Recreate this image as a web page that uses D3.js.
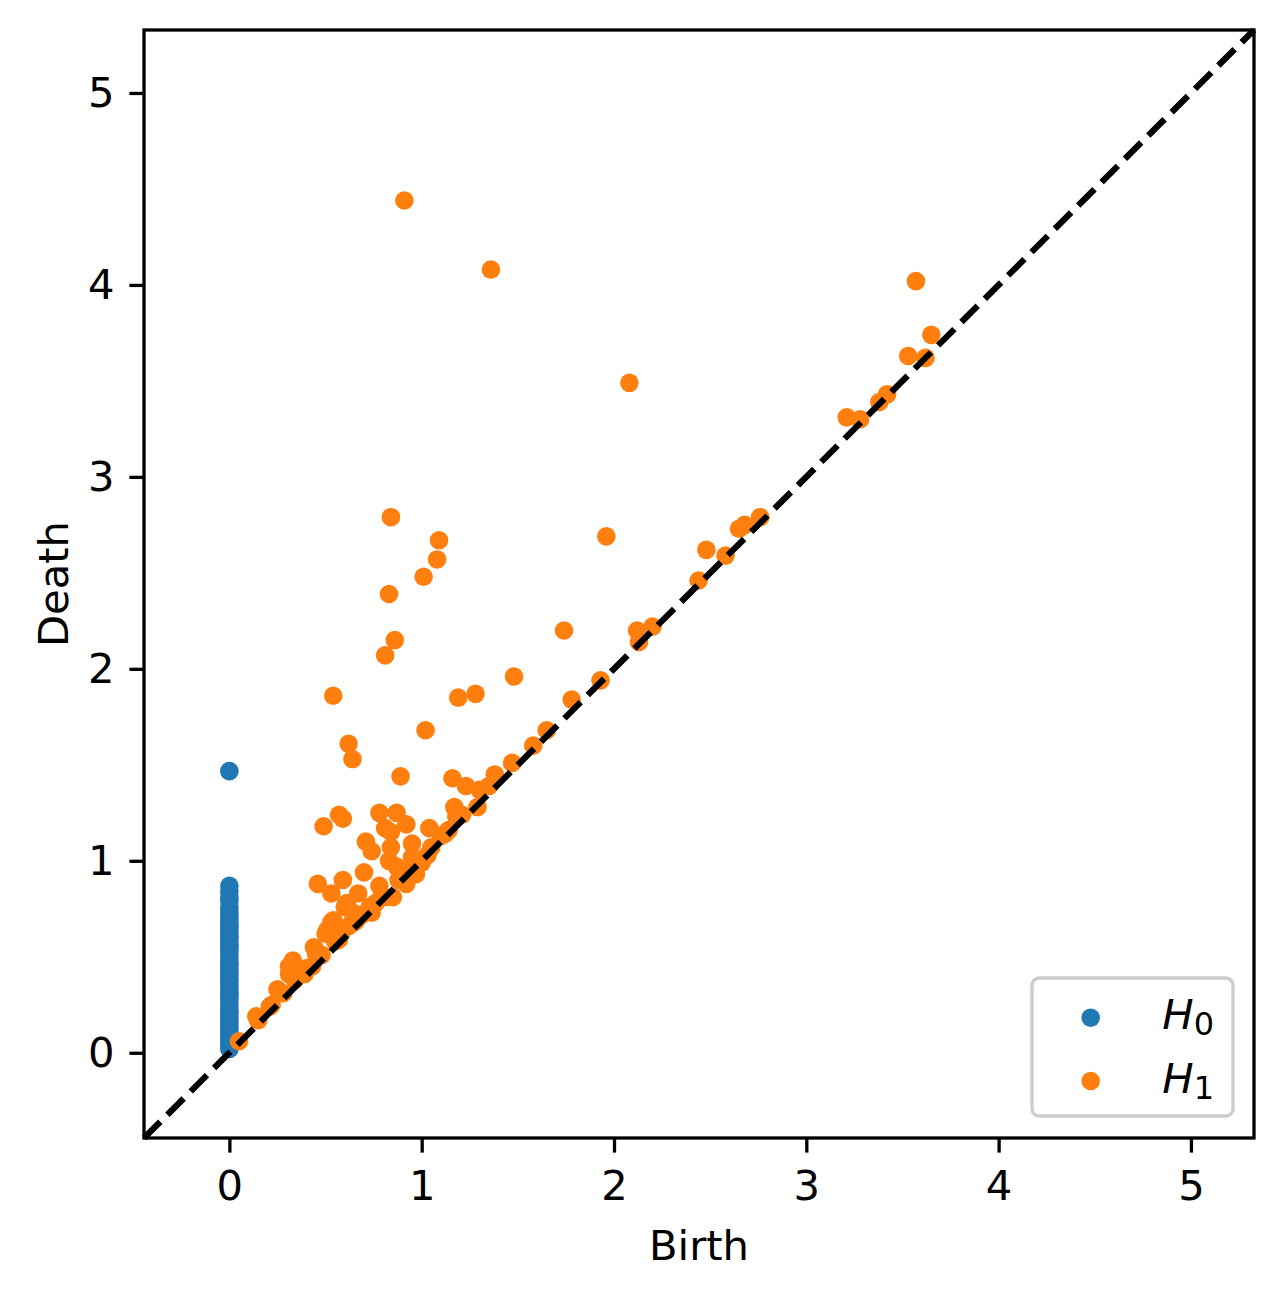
<!DOCTYPE html>
<html>
<head>
<meta charset="utf-8">
<script src="https://cdn.jsdelivr.net/npm/d3@7"></script>
<style>
  body { margin: 0; background: #fff; }
  text { font-family: "DejaVu Sans", sans-serif; }
</style>
</head>
<body>
<div id="renderer"></div>
<script>
// H0 pairs: all born at 0
const h0Death = [1.467, 0.87, 0.84, 0.81, 0.79, 0.76, 0.74, 0.72, 0.70, 0.68, 0.66, 0.65, 0.63, 0.61,
    0.60, 0.58, 0.56, 0.55, 0.53, 0.51, 0.49, 0.47, 0.46, 0.44, 0.42, 0.40, 0.38, 0.37, 0.35,
    0.33, 0.31, 0.30, 0.28, 0.26, 0.24, 0.22, 0.21, 0.19, 0.17, 0.15, 0.13, 0.12, 0.10, 0.08,
    0.07, 0.05, 0.03, 0.02];

// H1 pairs (birth, death)
const h1Birth = [0.91, 1.36, 2.08, 3.57, 0.84, 1.09, 1.08, 1.01, 0.83, 0.86, 0.81, 0.54, 1.19, 1.28,
    1.96, 1.74, 1.48, 1.78, 0.62, 0.64, 1.02, 0.89, 1.16, 1.23, 1.30, 1.29, 1.38, 1.47, 1.58,
    1.65, 1.17, 1.18, 1.12, 1.04, 0.49, 0.57, 0.59, 0.78, 0.87, 0.92, 0.81, 0.84, 0.71, 0.74,
    0.84, 0.83, 0.87, 0.95, 0.95, 1.05, 0.70, 0.59, 0.46, 0.53, 0.78, 0.67, 0.60, 0.53, 0.50,
    0.44, 0.66, 0.74, 0.81, 0.92, 1.00, 1.03, 0.64, 0.73, 0.57, 0.62, 0.33, 0.31, 0.45, 0.43,
    0.34, 0.26, 0.22, 0.15, 0.05, 1.93, 2.12, 2.20, 2.13, 2.44, 2.48, 2.58, 2.65, 2.68, 2.76,
    3.65, 3.53, 3.62, 3.21, 3.28, 3.38, 3.42, 1.35, 1.21, 0.61, 0.39, 0.31, 0.25, 0.21, 0.14,
    0.97, 0.85, 0.92, 0.54, 0.51, 0.48, 0.55, 0.58, 0.65, 0.69, 0.76, 0.79, 0.88, 0.90, 0.98,
    0.40, 0.36, 0.28, 1.10, 1.14];
const h1Death = [4.44, 4.08, 3.49, 4.02, 2.79, 2.67, 2.57, 2.48, 2.39, 2.15, 2.07, 1.86, 1.85, 1.87,
    2.69, 2.20, 1.96, 1.84, 1.61, 1.53, 1.68, 1.44, 1.43, 1.39, 1.37, 1.28, 1.45, 1.51, 1.60,
    1.68, 1.28, 1.23, 1.14, 1.17, 1.18, 1.24, 1.22, 1.25, 1.25, 1.19, 1.17, 1.15, 1.10, 1.05,
    1.07, 1.00, 0.97, 1.09, 1.02, 1.07, 0.94, 0.90, 0.88, 0.83, 0.87, 0.83, 0.76, 0.68, 0.62,
    0.55, 0.69, 0.73, 0.81, 0.94, 0.99, 1.03, 0.73, 0.76, 0.59, 0.66, 0.48, 0.45, 0.52, 0.45,
    0.38, 0.31, 0.25, 0.17, 0.06, 1.94, 2.20, 2.22, 2.14, 2.46, 2.62, 2.59, 2.73, 2.75, 2.79,
    3.74, 3.63, 3.62, 3.31, 3.30, 3.39, 3.43, 1.39, 1.24, 0.78, 0.41, 0.41, 0.33, 0.24, 0.19,
    0.93, 0.81, 0.88, 0.69, 0.64, 0.51, 0.58, 0.62, 0.68, 0.72, 0.78, 0.81, 0.90, 0.93, 1.00,
    0.44, 0.40, 0.31, 1.13, 1.16];

const tickValues = [0, 1, 2, 3, 4, 5];
const axisMin = -0.444;
const axisMax = 5.328;

const width = 1283;
const height = 1298;
const fontSize = 41.7;

const svg = d3.select("#renderer")
    .append("svg")
    .attr("width", width)
    .attr("height", height);

const x = d3.scaleLinear().domain([axisMin, axisMax]).range([144, 1254]);
const y = d3.scaleLinear().domain([axisMin, axisMax]).range([1138, 30]);

// Scatter H0 then H1
svg.append("g")
    .selectAll("circle")
    .data(h0Death)
    .join("circle")
    .attr("cx", x(0))
    .attr("cy", d => y(d))
    .attr("r", 9.3)
    .attr("fill", "#1f77b4");

const h1 = h1Birth.map((b, i) => ({ b: b, d: h1Death[i] }));
svg.append("g")
    .selectAll("circle")
    .data(h1)
    .join("circle")
    .attr("cx", d => x(d.b))
    .attr("cy", d => y(d.d))
    .attr("r", 9.3)
    .attr("fill", "#ff7f0e");

// Diagonal
svg.append("line")
    .attr("x1", x(axisMin))
    .attr("y1", y(axisMin))
    .attr("x2", x(axisMax))
    .attr("y2", y(axisMax))
    .attr("stroke", "black")
    .attr("stroke-width", 6.25)
    .attr("stroke-dasharray", "23,10");

// Axes
const xAxis = svg.append("g")
    .attr("transform", `translate(0,${1138})`)
    .call(d3.axisBottom(x).tickValues(tickValues).tickSize(14.6).tickPadding(18).tickFormat(d3.format("d")));
const yAxis = svg.append("g")
    .attr("transform", `translate(${144},0)`)
    .call(d3.axisLeft(y).tickValues(tickValues).tickSize(14.6).tickPadding(15).tickFormat(d3.format("d")));

[xAxis, yAxis].forEach(g => {
    g.select(".domain").remove();
    g.selectAll(".tick line").attr("stroke", "black").attr("stroke-width", 3.3);
    g.selectAll(".tick text")
        .attr("fill", "black")
        .attr("font-size", fontSize)
        .attr("font-family", "DejaVu Sans");
});

// Frame
svg.append("rect")
    .attr("x", 144)
    .attr("y", 30)
    .attr("width", 1110)
    .attr("height", 1108)
    .attr("fill", "none")
    .attr("stroke", "black")
    .attr("stroke-width", 3.3);

// Axis labels
svg.append("text")
    .attr("x", 699)
    .attr("y", 1260)
    .attr("text-anchor", "middle")
    .attr("font-size", fontSize)
    .text("Birth");

svg.append("text")
    .attr("transform", "translate(68,584) rotate(-90)")
    .attr("text-anchor", "middle")
    .attr("font-size", fontSize)
    .text("Death");

// Legend
const legend = svg.append("g");
legend.append("rect")
    .attr("x", 1032)
    .attr("y", 978)
    .attr("width", 201)
    .attr("height", 138)
    .attr("rx", 7)
    .attr("fill", "white")
    .attr("fill-opacity", 0.8)
    .attr("stroke", "#cccccc")
    .attr("stroke-width", 3.3);

const legendItems = [
    { sub: "0", color: "#1f77b4" },
    { sub: "1", color: "#ff7f0e" }
];
legendItems.forEach((item, i) => {
    const cy = 1017.7 + i * 63.3;
    legend.append("circle")
        .attr("cx", 1090.7)
        .attr("cy", cy)
        .attr("r", 9.3)
        .attr("fill", item.color);
    const t = legend.append("text")
        .attr("x", 1214)
        .attr("y", cy + 11.5)
        .attr("text-anchor", "end")
        .attr("font-size", fontSize);
    t.append("tspan").attr("font-style", "italic").text("H");
    t.append("tspan").attr("font-size", 32).attr("dy", 6).text(item.sub);
});
</script>
</body>
</html>
